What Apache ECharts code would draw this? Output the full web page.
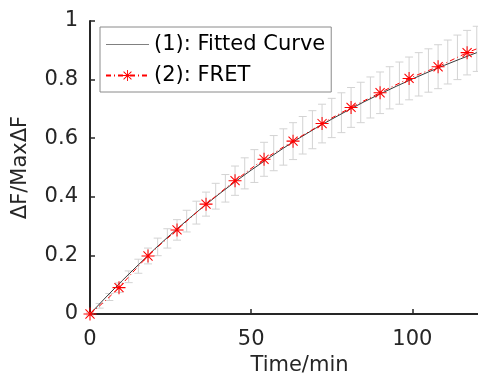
<!DOCTYPE html>
<html><head><meta charset="utf-8">
<script src="https://cdn.jsdelivr.net/npm/echarts@6/dist/echarts.min.js"></script>
<style>html,body{margin:0;padding:0;background:#fff}#c{width:478px;height:376px}</style>
</head><body><div id="c"></div>
<script>
// ---- data ----
const seriesNames = ['(1): Fitted Curve', '(2): FRET'];
const timeMin = [0,3,6,9,12,15,18,21,24,27,30,33,36,39,42,45,48,51,54,57,60,63,66,69,72,75,78,81,84,87,90,93,96,99,102,105,108,111,114,117,120];
const fretValues = [0,0.028,0.058,0.090,0.127,0.163,0.198,0.229,0.258,0.287,0.317,0.346,0.375,0.402,0.429,0.455,0.480,0.505,0.528,0.549,0.570,0.590,0.610,0.629,0.650,0.669,0.687,0.705,0.722,0.739,0.755,0.772,0.788,0.804,0.818,0.831,0.844,0.860,0.876,0.892,0.905];
const fretErrors = [0.004,0.008,0.012,0.016,0.020,0.024,0.027,0.030,0.033,0.035,0.037,0.039,0.041,0.044,0.047,0.050,0.053,0.056,0.058,0.060,0.062,0.063,0.064,0.065,0.066,0.067,0.068,0.068,0.069,0.070,0.071,0.072,0.072,0.073,0.074,0.074,0.075,0.075,0.076,0.076,0.077];
const fitTime = [0,5,10,15,20,25,30,35,40,45,50,55,60,65,70,75,80,85,90,95,100,105,110,115,120];
const fitValues = [0,0.058,0.114,0.168,0.221,0.271,0.319,0.365,0.409,0.451,0.491,0.529,0.566,0.601,0.634,0.665,0.695,0.724,0.751,0.777,0.802,0.826,0.849,0.871,0.892];
const markerEvery = 3;
const xTicks = {min: 0, max: 130, interval: 50};
const yTicks = {min: 0, max: 1, interval: 0.2};

// ---- styles ----
const FONT = 'DejaVu Sans';
const AXIS = '#262626';
const RED = '#ff0000';
const FITC = '#3a3a3a';
const DASHDOT = [5, 3, 1, 3];
const ASTERISK = 'path://M9.2,0L10.8,0L10.8,20L9.2,20Z M0,9.2L20,9.2L20,10.8L0,10.8Z M3.57,2.43L17.57,16.43L16.43,17.57L2.43,3.57Z M16.43,2.43L17.57,3.57L3.57,17.57L2.43,16.43Z';

const chart = echarts.init(document.getElementById('c'), null, {renderer: 'canvas'});
chart.setOption({
  animation: false,
  backgroundColor: '#fff',
  grid: {left: 90, top: 21, bottom: 62, right: -31, containLabel: false, outerBoundsMode: 'none'},
  legend: {
    data: [
      {name: seriesNames[0], itemStyle: {opacity: 0}, lineStyle: {width: 1, color: '#808080', type: 'solid'}},
      {name: seriesNames[1]}
    ],
    orient: 'vertical', left: 100, top: 27,
    padding: [7, 6, 6, 5], itemGap: 10, itemWidth: 43, itemHeight: 14,
    backgroundColor: '#fff', borderColor: '#8a8a8a', borderWidth: 1,
    textStyle: {fontSize: 21, fontFamily: FONT, color: '#000'}
  },
  xAxis: {
    type: 'value', min: xTicks.min, max: xTicks.max, interval: xTicks.interval,
    name: 'Time/min', nameLocation: 'middle', nameGap: 40,
    nameTextStyle: {fontSize: 21, fontFamily: FONT, color: AXIS},
    axisLine: {show: true, onZero: false, lineStyle: {color: AXIS, width: 2}},
    axisTick: {show: true, inside: true, length: 5, lineStyle: {color: AXIS, width: 1.5}},
    axisLabel: {fontSize: 21, fontFamily: FONT, color: AXIS, margin: 15, showMaxLabel: false},
    splitLine: {show: false}
  },
  yAxis: {
    type: 'value', min: yTicks.min, max: yTicks.max, interval: yTicks.interval,
    name: 'ΔF/MaxΔF', nameLocation: 'middle', nameGap: 59,
    nameTextStyle: {fontSize: 21, fontFamily: FONT, color: AXIS},
    axisLine: {show: true, onZero: false, lineStyle: {color: AXIS, width: 2}},
    axisTick: {show: true, inside: true, length: 5, lineStyle: {color: AXIS, width: 1.5}},
    axisLabel: {fontSize: 21, fontFamily: FONT, color: AXIS, margin: 12},
    splitLine: {show: false}
  },
  series: [
    {
      name: 'errorbars', type: 'custom', z: 1, silent: true,
      data: timeMin.map((t, i) => [t, fretValues[i], fretErrors[i]]),
      encode: {x: 0, y: 1},
      renderItem: function (params, api) {
        const x = api.value(0), y = api.value(1), e = api.value(2);
        const top = api.coord([x, y + e]);
        const bot = api.coord([x, y - e]);
        const cap = 4;
        const st = {stroke: '#d3d3d3', lineWidth: 1};
        return {type: 'group', children: [
          {type: 'line', shape: {x1: top[0], y1: top[1], x2: bot[0], y2: bot[1]}, style: st},
          {type: 'line', shape: {x1: top[0] - cap, y1: top[1], x2: top[0] + cap, y2: top[1]}, style: st},
          {type: 'line', shape: {x1: bot[0] - cap, y1: bot[1], x2: bot[0] + cap, y2: bot[1]}, style: st}
        ]};
      }
    },
    {
      name: seriesNames[0], type: 'line', z: 3, symbol: 'none', color: FITC,
      data: fitTime.map((t, i) => [t, fitValues[i]]),
      lineStyle: {color: FITC, width: 1},
      itemStyle: {color: FITC}
    },
    {
      name: seriesNames[1], type: 'line', z: 4, symbol: ASTERISK, symbolSize: 13, color: RED,
      showSymbol: true,
      data: timeMin.map((t, i) => ({value: [t, fretValues[i]], symbol: i % markerEvery === 0 ? ASTERISK : 'none'})),
      lineStyle: {color: RED, width: 1, type: DASHDOT},
      itemStyle: {color: RED}
    }
  ]
});
</script>
</body></html>
